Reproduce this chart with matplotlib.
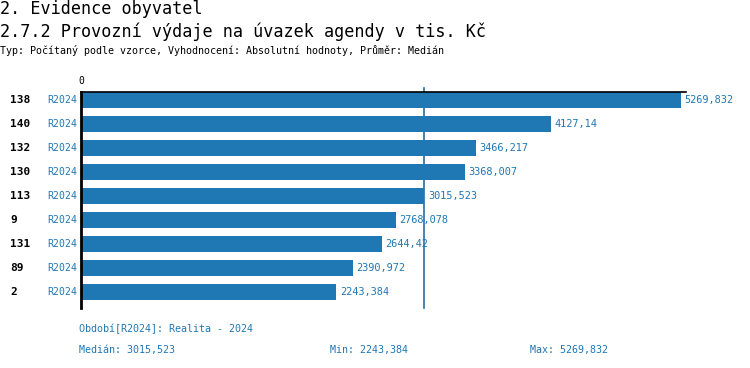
import matplotlib.pyplot as plt

# data
ids = ['138', '140', '132', '130', '113', '9', '131', '89', '2']
period = ['R2024'] * 9
values = [5269.832, 4127.14, 3466.217, 3368.007, 3015.523, 2768.078, 2644.42, 2390.972, 2243.384]
value_labels = ['5269,832', '4127,14', '3466,217', '3368,007', '3015,523',
                '2768,078', '2644,42', '2390,972', '2243,384']
median = 3015.523
median_txt = '3015,523'
min_txt = '2243,384'
max_txt = '5269,832'

blue = '#1f77b4'
mono = 'DejaVu Sans Mono'

W, H = 750, 368
fig = plt.figure(figsize=(W / 100, H / 100), dpi=100)

# axes placed in pixel coords: x 81..686, y 92..308
ax = fig.add_axes([81 / W, 1 - 308 / H, (686 - 81) / W, (308 - 92) / H])
ypos = list(range(len(values)))
ax.barh(ypos, values, height=0.68, color=blue, zorder=2)
ax.set_xlim(0, 5313)
ax.set_ylim(8 + 16 / 24, -8 / 24)

ax.axvline(median, ymin=0, ymax=1 + 4 / 216, color='#2a6ea6', lw=1.2, zorder=1, clip_on=False)

for s in ['right', 'bottom']:
    ax.spines[s].set_visible(False)
ax.spines['left'].set_linewidth(2)
ax.spines['top'].set_linewidth(1.2)
ax.set_xticks([])
ax.set_yticks([])

for y, v, lbl in zip(ypos, values, value_labels):
    ax.text(v + 30, y, lbl, va='center', ha='left', color=blue, fontsize=7.4, family=mono)

for y, i, p in zip(ypos, ids, period):
    fig.text(10 / W, 1 - (100 + 24 * y) / H, i, va='center', ha='left', fontsize=8,
             weight='bold', family=mono)
    fig.text(77 / W, 1 - (100 + 24 * y) / H, p, va='center', ha='right', color=blue,
             fontsize=7.1, family=mono)

fig.text(81 / W, 1 - 81 / H, '0', ha='center', va='center', fontsize=7, family=mono)

fig.text(0, 1 - 9 / H, '2. Evidence obyvatel', fontsize=12.1, family=mono, va='center')
fig.text(0, 1 - 32 / H, '2.7.2 Provozní výdaje na úvazek agendy v tis. Kč', fontsize=12.1,
         family=mono, va='center')
fig.text(0, 1 - 51 / H,
         'Typ: Počítaný podle vzorce, Vyhodnocení: Absolutní hodnoty, Průměr: Medián',
         fontsize=7.2, family=mono, va='center')

fig.text(79 / W, 1 - 329 / H, 'Období[R2024]: Realita - 2024', color=blue, fontsize=7.2,
         family=mono, va='center')
fig.text(79 / W, 1 - 350 / H, 'Medián: ' + median_txt, color=blue, fontsize=7.2,
         family=mono, va='center')
fig.text(330 / W, 1 - 350 / H, 'Min: ' + min_txt, color=blue, fontsize=7.2,
         family=mono, va='center')
fig.text(530 / W, 1 - 350 / H, 'Max: ' + max_txt, color=blue, fontsize=7.2,
         family=mono, va='center')

fig.savefig('out.png', dpi=100)
